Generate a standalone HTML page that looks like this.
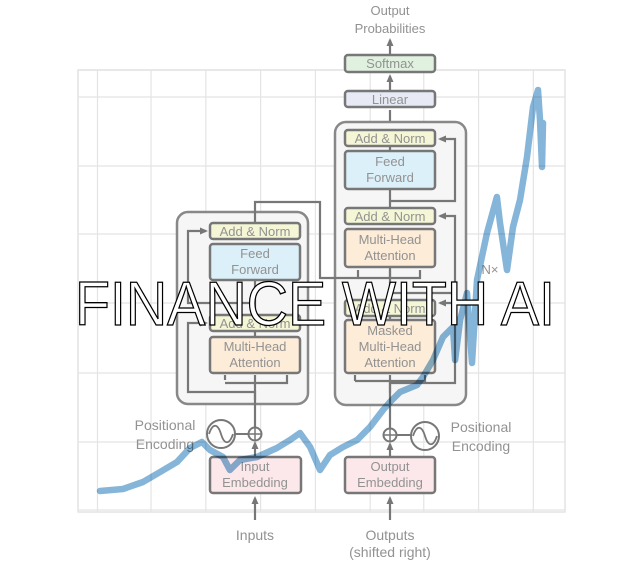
<!DOCTYPE html>
<html><head><meta charset="utf-8"><style>
html,body{margin:0;padding:0;background:#fff;}
svg{display:block;font-family:"Liberation Sans",sans-serif;}
.t{fill:#929292;font-size:13px;text-anchor:middle;}
.b{stroke:#777;stroke-width:2.5;}
.o{fill:#f6f6f6;stroke:#888;stroke-width:2.5;}
.w{fill:none;stroke:#777;stroke-width:2.2;}
.g{stroke:#e4e4e4;stroke-width:1.2;}
</style></head><body>
<svg id="c" width="626" height="575" viewBox="0 0 626 575">
<defs><marker id="ar" markerUnits="userSpaceOnUse" markerWidth="8" markerHeight="8" refX="6" refY="4" orient="auto"><path d="M0,0.5 L8,4 L0,7.5z" fill="#777"/></marker></defs>
<g id="grid"></g>
<g id="diagram">
<text class="t" x="390" y="15">Output</text>
<text class="t" x="390" y="33">Probabilities</text>
<line class="w" x1="390" y1="54" x2="390" y2="40" marker-end="url(#ar)"/>
<rect x="345" y="55" width="90" height="17" rx="3" fill="#e0f1e0" class="b"/>
<text class="t" x="390" y="68">Softmax</text>
<line class="w" x1="390" y1="90" x2="390" y2="76" marker-end="url(#ar)"/>
<rect x="345" y="91" width="90" height="16" rx="3" fill="#e7e9f5" class="b"/>
<text class="t" x="390" y="104">Linear</text>
<line class="w" x1="390" y1="122" x2="390" y2="110"/>
<rect x="335" y="122" width="131" height="283" rx="11" class="o"/>
<rect x="177" y="212" width="131" height="192" rx="11" class="o"/>
<path class="w" d="M390,393 V383 H455 V303 H440" marker-end="url(#ar)"/>
<path class="w" d="M390,293 H455 V216 H440" marker-end="url(#ar)"/>
<path class="w" d="M390,201 H455 V139 H440" marker-end="url(#ar)"/>
<path class="w" d="M255,210 V202 H320 V278 H358 V270"/>
<path class="w" d="M358,278 H390 V270 M390,278 H420 V270"/>
<line class="w" x1="390" y1="430" x2="390" y2="375"/>
<path class="w" d="M355,381 V375 M355,381 H425 V375"/>
<line class="w" x1="390" y1="316" x2="390" y2="320"/><line class="w" x1="390" y1="267" x2="390" y2="297"/>
<line class="w" x1="390" y1="189" x2="390" y2="208"/><line class="w" x1="390" y1="146" x2="390" y2="150"/>
<path class="w" d="M255,400 V392 H188 V323 H206" marker-end="url(#ar)"/>
<path class="w" d="M255,303 H188 V231 H206" marker-end="url(#ar)"/>
<line class="w" x1="255" y1="428" x2="255" y2="375"/>
<path class="w" d="M225,380 V375 M225,383 H287 V375"/>
<line class="w" x1="255" y1="331" x2="255" y2="337"/><line class="w" x1="255" y1="280" x2="255" y2="315"/>
<line class="w" x1="255" y1="223" x2="255" y2="210"/>
<rect x="345" y="130" width="90" height="16" rx="3" fill="#f4f6d6" class="b"/>
<text class="t" x="390" y="143">Add &amp; Norm</text>
<rect x="345" y="151" width="90" height="38" rx="3" fill="#dcf0fa" class="b"/>
<text class="t" x="390" y="166">Feed</text><text class="t" x="390" y="182">Forward</text>
<rect x="345" y="208" width="90" height="16" rx="3" fill="#f4f6d6" class="b"/>
<text class="t" x="390" y="221">Add &amp; Norm</text>
<rect x="345" y="229" width="90" height="38" rx="3" fill="#fdecd8" class="b"/>
<text class="t" x="390" y="244">Multi-Head</text><text class="t" x="390" y="260">Attention</text>
<rect x="345" y="300" width="90" height="16" rx="3" fill="#f4f6d6" class="b"/>
<text class="t" x="390" y="313">Add &amp; Norm</text>
<rect x="345" y="320" width="90" height="53" rx="3" fill="#fdecd8" class="b"/>
<text class="t" x="390" y="335">Masked</text><text class="t" x="390" y="351">Multi-Head</text><text class="t" x="390" y="367">Attention</text>
<rect x="210" y="223" width="90" height="16" rx="3" fill="#f4f6d6" class="b"/>
<text class="t" x="255" y="236">Add &amp; Norm</text>
<rect x="210" y="244" width="90" height="36" rx="3" fill="#dcf0fa" class="b"/>
<text class="t" x="255" y="258">Feed</text><text class="t" x="255" y="274">Forward</text>
<rect x="210" y="315" width="90" height="16" rx="3" fill="#f4f6d6" class="b"/>
<text class="t" x="255" y="328">Add &amp; Norm</text>
<rect x="210" y="337" width="90" height="36" rx="3" fill="#fdecd8" class="b"/>
<text class="t" x="255" y="351">Multi-Head</text><text class="t" x="255" y="367">Attention</text>
<text class="t" x="490" y="274">N×</text>
<circle cx="221" cy="434" r="14" fill="none" stroke="#777" stroke-width="2"/>
<path d="M209,434 C213,422 218,424 221,434 C224,444 229,446 233,434" fill="none" stroke="#777" stroke-width="1.8"/>
<line x1="235" y1="434" x2="249" y2="434" stroke="#777" stroke-width="2"/>
<circle cx="255" cy="434" r="6.5" fill="#fff" stroke="#777" stroke-width="2"/>
<path d="M249,434 H261 M255,428 V440" stroke="#777" stroke-width="1.5"/>
<circle cx="425" cy="436" r="14" fill="none" stroke="#777" stroke-width="2"/>
<path d="M413,436 C417,424 422,426 425,436 C428,446 433,448 437,436" fill="none" stroke="#777" stroke-width="1.8"/>
<line x1="397" y1="435" x2="411" y2="435" stroke="#777" stroke-width="2"/>
<circle cx="390" cy="435" r="6.5" fill="#fff" stroke="#777" stroke-width="2"/>
<path d="M384,435 H396 M390,429 V441" stroke="#777" stroke-width="1.5"/>
<text class="t" x="165" y="430" style="font-size:14px">Positional</text>
<text class="t" x="165" y="449" style="font-size:14px">Encoding</text>
<text class="t" x="481" y="432" style="font-size:14px">Positional</text>
<text class="t" x="481" y="451" style="font-size:14px">Encoding</text>
<line class="w" x1="255" y1="456" x2="255" y2="443" marker-end="url(#ar)"/>
<line class="w" x1="390" y1="456" x2="390" y2="444" marker-end="url(#ar)"/>
<rect x="210" y="457" width="91" height="36" rx="3" fill="#fce8ea" class="b"/>
<text class="t" x="255" y="471">Input</text><text class="t" x="255" y="487">Embedding</text>
<rect x="345" y="457" width="90" height="36" rx="3" fill="#fce8ea" class="b"/>
<text class="t" x="390" y="471">Output</text><text class="t" x="390" y="487">Embedding</text>
<line class="w" x1="255" y1="520" x2="255" y2="498" marker-end="url(#ar)"/>
<line class="w" x1="390" y1="520" x2="390" y2="498" marker-end="url(#ar)"/>
<text class="t" x="255" y="540" style="font-size:14px">Inputs</text>
<text class="t" x="390" y="540" style="font-size:14px">Outputs</text>
<text class="t" x="390" y="557" style="font-size:14px">(shifted right)</text>
</g>
<path id="price" fill="none" stroke="#6fa8d2" stroke-width="6.5" stroke-linejoin="round" stroke-linecap="round" opacity="0.85" style="mix-blend-mode:multiply"/>
<text x="315" y="325" text-anchor="middle" textLength="480" lengthAdjust="spacingAndGlyphs" fill="#fff" stroke="#000" stroke-width="1.3" style="font-size:62px">FINANCE WITH AI</text>
</svg>
<script>
const years = [1986.81,1988.70,1990.34,1991.74,1993.13,1994.20,1995.18,1995.84,1996.91,1997.48,1998.31,1999.70,2001.34,2002.41,2003.23,2004.06,2004.88,2005.70,2006.77,2007.92,2008.98,2010.05,2010.63,2011.45,2012.84,2013.34,2014.16,2014.98,2015.80,2015.97,2016.38,2016.95,2017.36,2017.77,2018.59,2019.41,2019.66,2020.24,2020.73,2021.30,2021.88,2022.37,2022.78,2022.95,2023.11,2023.19];
const prices = [29,31,38,48,58,72,78,70,63,50,60,63,72,80,87,73,50,65,73,80,93,110,118,128,135,143,160,183,193,160,200,227,157,240,287,323,297,250,293,320,363,413,430,400,353,397];
const xTicks = [1985,1986.6,1991,1995.5,2000,2004.5,2009,2013.4,2017.9,2022.4];
const yTicks = [10,78,147,217,286,354,423,450];
const x = t => 78 + (t - 1985) * 12.175;
const y = v => 520 - v;
const g = document.getElementById('grid');
const ns = 'http://www.w3.org/2000/svg';
const frame = document.createElementNS(ns,'rect');
frame.setAttribute('x',78);frame.setAttribute('y',70);frame.setAttribute('width',487);frame.setAttribute('height',442);
frame.setAttribute('fill','none');frame.setAttribute('stroke','#e4e4e4');frame.setAttribute('stroke-width','1.5');


g.appendChild(frame);
xTicks.forEach(t => {
  const l = document.createElementNS(ns,'line');
  l.setAttribute('x1',x(t));l.setAttribute('x2',x(t));l.setAttribute('y1',70);l.setAttribute('y2',512);l.setAttribute('class','g');
  
  
  g.appendChild(l);
});
yTicks.forEach(v => {
  const l = document.createElementNS(ns,'line');
  l.setAttribute('x1',78);l.setAttribute('x2',565);l.setAttribute('y1',y(v));l.setAttribute('y2',y(v));l.setAttribute('class','g');
  
  
  g.appendChild(l);
});
document.getElementById('price').setAttribute('d', years.map((t,i)=>(i?'L':'M')+x(t).toFixed(1)+','+y(prices[i]).toFixed(1)).join(' '));
</script>
</body></html>
